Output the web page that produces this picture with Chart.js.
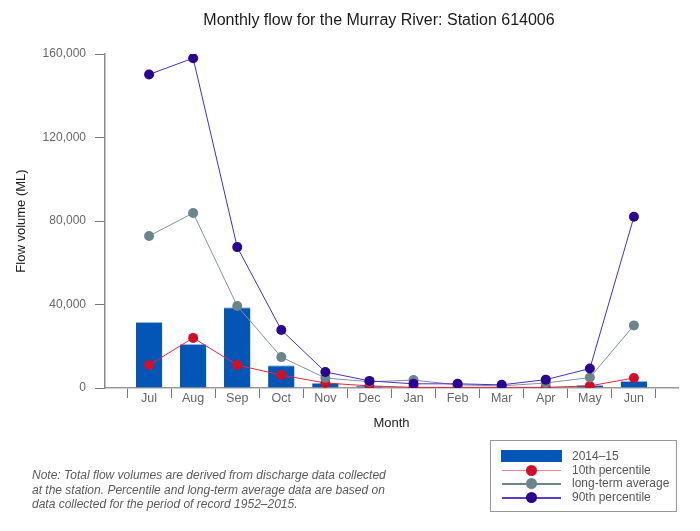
<!DOCTYPE html>
<html>
<head>
<meta charset="utf-8">
<script src="https://cdn.jsdelivr.net/npm/chart.js@4"></script>
<style>
    body { margin: 0; background: #fff; font-family: "Liberation Sans", Arial, sans-serif; }
    #wrap { position: relative; width: 700px; height: 531px; }
    #note {
        position: absolute; left: 32px; top: 468px; width: 420px; white-space: nowrap;
        font-size: 12px; font-style: italic; color: #5a5a5a; line-height: 14.5px;
    }
    #legend {
        position: absolute; left: 490px; top: 440px; width: 187px; height: 72px;
        border: 1px solid #999; box-sizing: border-box;
    }
    .item { position: absolute; left: 0; height: 13px; width: 186px; }
    .item span { position: absolute; left: 81px; top: -1px; font-size: 12px; color: #555; white-space: nowrap; }
    .swatch-bar { position: absolute; left: 10px; top: 0; width: 61px; height: 12px; background: #0356b6; }
    .swatch-line { position: absolute; left: 11px; top: 6px; width: 59px; height: 1.5px; }
    .swatch-dot { position: absolute; left: 35px; top: 1px; width: 11px; height: 11px; border-radius: 50%; }
</style>
</head>
<body>
<div id="wrap">
    <canvas id="chart" width="700" height="531"></canvas>
    <div id="legend"></div>
    <div id="note">Note: Total flow volumes are derived from discharge data collected<br>at the station. Percentile and long-term average data are based on<br>data collected for the period of record 1952–2015.</div>
</div>
<script>
// monthly values, ML
const months = ['Jul', 'Aug', 'Sep', 'Oct', 'Nov', 'Dec', 'Jan', 'Feb', 'Mar', 'Apr', 'May', 'Jun'];
const flow2014 = [31600, 21100, 38700, 10900, 2500, 1100, 300, 300, 300, 500, 1400, 3400];
const pct10 = [11000, 24000, 11000, 6200, 2400, 1000, 300, 300, 300, 300, 1000, 4800];
const longTermAvg = [72800, 83800, 39300, 14800, 4800, 3000, 3800, 1500, 1000, 2400, 5000, 30000];
const pct90 = [150200, 158000, 67500, 27800, 7700, 3400, 2000, 2000, 1500, 4000, 9300, 82000];
const yTicks = [0, 40000, 80000, 120000, 160000];

const series = [
    { label: '2014–15', type: 'bar', values: flow2014, color: '#0356b6' },
    { label: '10th percentile', values: pct10, color: '#d0102b', line: '#e0283c', legendLine: '#e88590' },
    { label: 'long-term average', values: longTermAvg, color: '#6c848c', line: '#80949b', legendLine: '#6c848c' },
    { label: '90th percentile', values: pct90, color: '#2a058f', line: '#4a2bc4', legendLine: '#5a3bd0' }
];

// pad one empty slot each side so the axis runs half a month past the ends
const pad = arr => [null, ...arr, null];

const datasets = series.map((s, i) => {
    if (s.type === 'bar') {
        return {
            type: 'bar', label: s.label, data: pad(s.values),
            backgroundColor: s.color, borderColor: '#8fb6e0', borderWidth: { top: 1 },
            barPercentage: 1, categoryPercentage: 0.6, order: 10
        };
    }
    return {
        type: 'line', label: s.label, data: pad(s.values),
        borderColor: s.line, borderWidth: 1, backgroundColor: s.color,
        pointBackgroundColor: s.color, pointBorderColor: s.color, pointBorderWidth: 0,
        pointRadius: 5, pointHoverRadius: 5, tension: 0, order: 4 - i
    };
});

const titlePlugin = {
    id: 'titleText',
    afterDraw(chart) {
        const ctx = chart.ctx;
        ctx.save();
        ctx.font = '16px "Liberation Sans", Arial, sans-serif';
        ctx.fillStyle = '#1a1a1a';
        ctx.textAlign = 'center';
        ctx.textBaseline = 'middle';
        ctx.fillText('Monthly flow for the Murray River: Station 614006', 379, 21);
        ctx.restore();
    }
};

new Chart(document.getElementById('chart'), {
    data: { labels: pad(months).map(m => m || ''), datasets },
    options: {
        responsive: false,
        animation: false,
        layout: { padding: { left: 0, right: 22, top: 54, bottom: 96 } },
        plugins: { legend: { display: false }, tooltip: { enabled: false } },
        scales: {
            x: {
                type: 'category',
                offset: false,
                grid: { offset: true, drawOnChartArea: false, drawTicks: true, tickLength: 10, color: '#777' },
                border: { color: '#999', width: 1.5 },
                ticks: { color: '#666', font: { size: 12.5, family: '"Liberation Sans", Arial' }, padding: -7, maxRotation: 0, autoSkip: false },
                title: { display: true, text: 'Month', color: '#222', font: { size: 13, family: '"Liberation Sans", Arial' }, padding: { top: 14 } },
                afterFit(scale) { scale.height = 47; }
            },
            y: {
                min: 0, max: 160000,
                afterBuildTicks(scale) { scale.ticks = yTicks.map(v => ({ value: v })); },
                grid: { drawOnChartArea: false, drawTicks: true, tickLength: 10, color: '#777' },
                border: { color: '#888', width: 1.5 },
                ticks: {
                    color: '#666', padding: 9, font: { size: 12, family: '"Liberation Sans", Arial' },
                    callback: v => v.toLocaleString('en-US')
                },
                title: { display: true, text: 'Flow volume (ML)', color: '#222', font: { size: 13, family: '"Liberation Sans", Arial' }, padding: { top: 14, bottom: 0 } },
                afterFit(scale) { scale.width = 105; }
            }
        }
    },
    plugins: [titlePlugin]
});

// legend box
const legend = document.getElementById('legend');
series.forEach((s, i) => {
    const item = document.createElement('div');
    item.className = 'item';
    item.style.top = (9 + i * 13.7) + 'px';
    if (s.type === 'bar') {
        item.innerHTML = '<div class="swatch-bar"></div>';
    } else {
        item.innerHTML = '<div class="swatch-line" style="background:' + s.legendLine + '"></div>' +
            '<div class="swatch-dot" style="background:' + s.color + '"></div>';
    }
    const label = document.createElement('span');
    label.textContent = s.label;
    item.appendChild(label);
    legend.appendChild(item);
});
</script>
</body>
</html>
